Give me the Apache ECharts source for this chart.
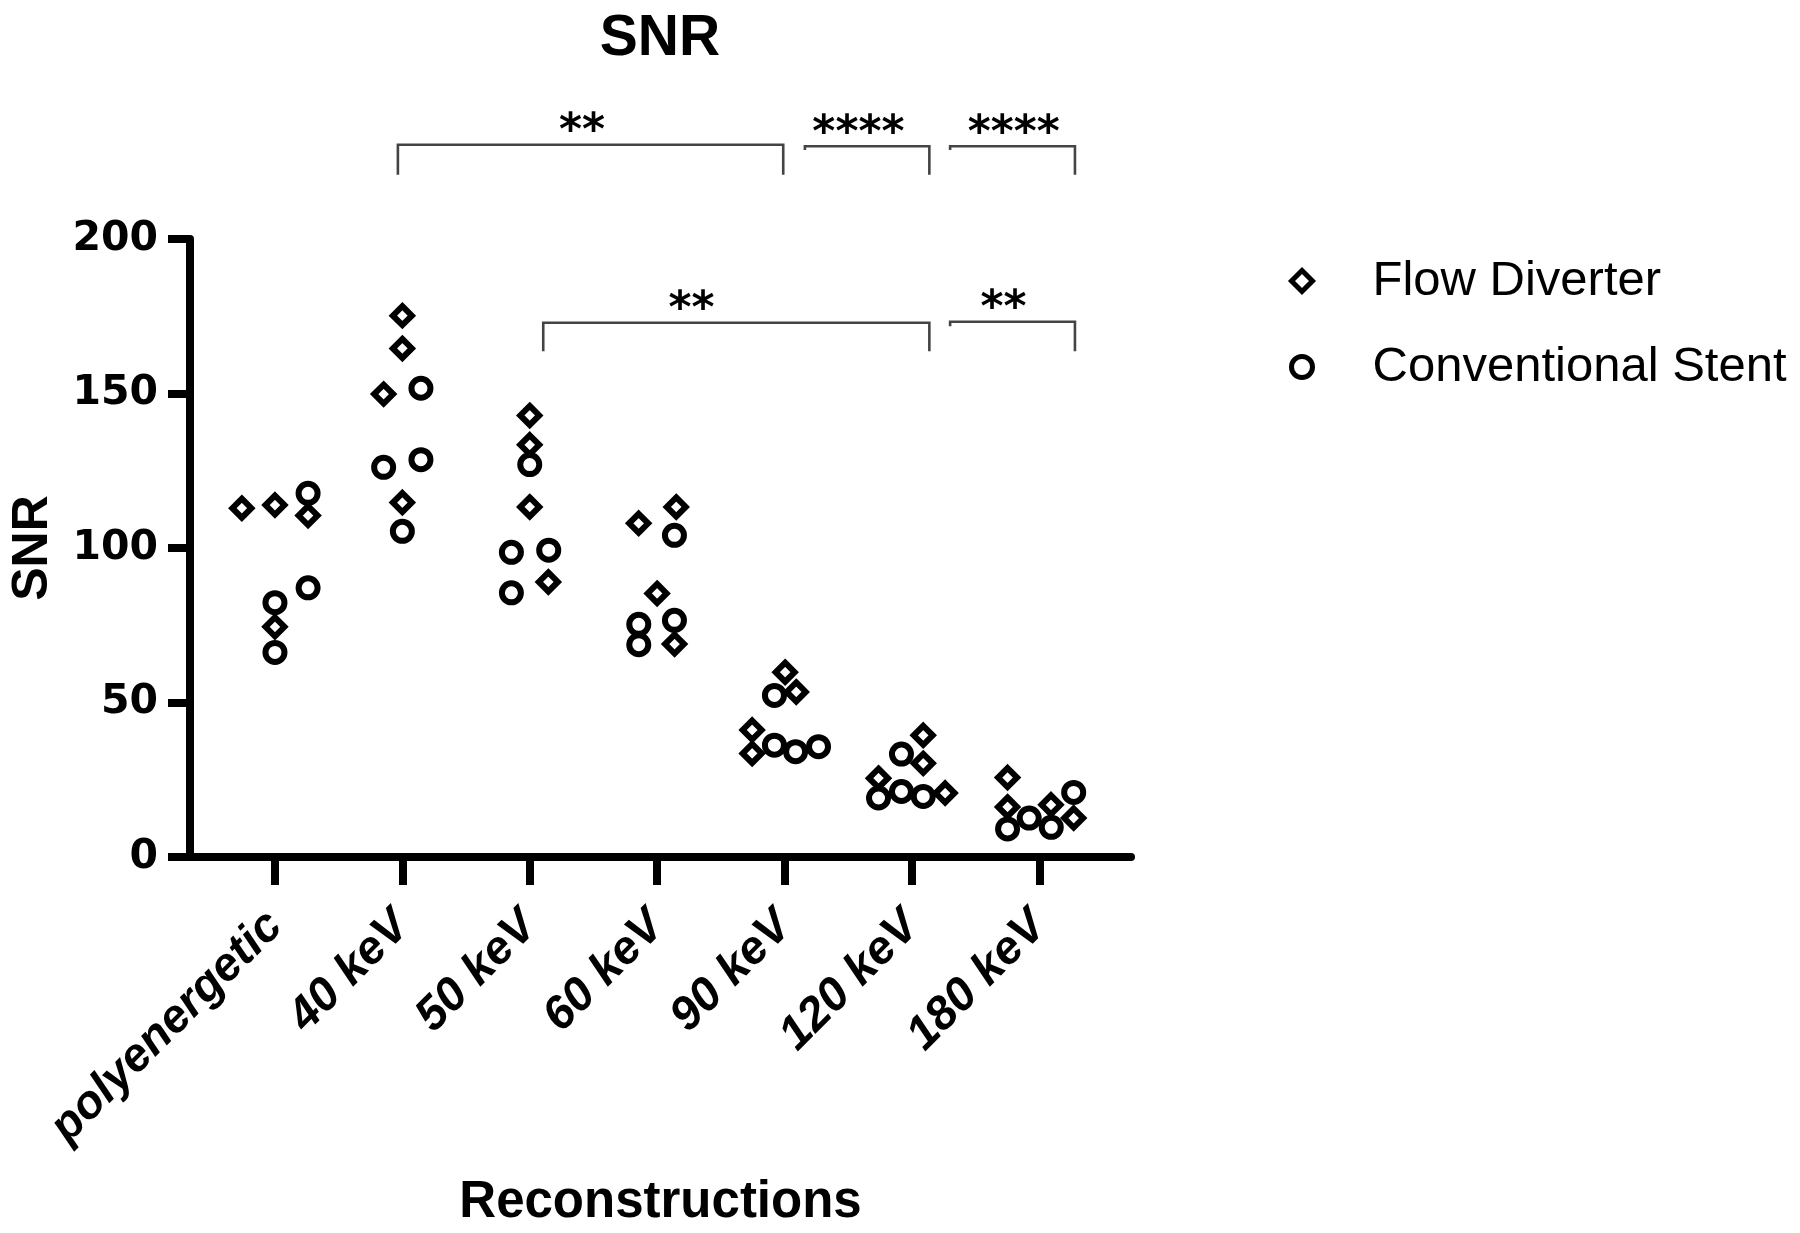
<!DOCTYPE html>
<html>
<head>
<meta charset="utf-8">
<script src="https://cdn.jsdelivr.net/npm/echarts@6/dist/echarts.min.js"></script>
<style>html,body{margin:0;padding:0;background:#fff}#c{width:1800px;height:1233px}</style>
</head>
<body>
<div id="c"></div>
<script>
// ---- data ----
const categories = ['polyenergetic', '40 keV', '50 keV', '60 keV', '90 keV', '120 keV', '180 keV'];
const yTicks = [0, 50, 100, 150, 200];

// Flow Diverter values per reconstruction, and horizontal jitter (category units)
const fdValues = [
  [112.9, 113.9, 110.5, 74.5],
  [175.2, 164.6, 149.8, 114.7],
  [142.9, 133.4, 113.3, 89.0],
  [108.0, 113.3, 85.3, 68.9],
  [59.8, 53.4, 41.1, 33.5],
  [39.4, 30.3, 25.5, 20.7],
  [25.7, 16.2, 16.9, 12.6]
];
const fdJitter = [
  [-0.26, 0, 0.26, 0],
  [0, 0, -0.147, 0],
  [0, 0, 0, 0.146],
  [-0.145, 0.15, 0, 0.137],
  [0.005, 0.092, -0.254, -0.254],
  [0.089, 0.089, -0.262, 0.261],
  [-0.249, -0.249, 0.092, 0.27]
];
// Conventional Stent values and jitter
const csValues = [
  [117.7, 87.1, 82.3, 66.2],
  [151.7, 126.1, 128.6, 105.4],
  [127.0, 98.6, 99.3, 85.5],
  [104.1, 75.3, 76.6, 68.7],
  [52.3, 36.2, 34.1, 35.7],
  [33.3, 19.1, 21.2, 19.6],
  [9.1, 12.6, 9.6, 20.9]
];
const csJitter = [
  [0.26, 0.26, 0, 0],
  [0.146, -0.147, 0.146, 0],
  [0, -0.144, 0.149, -0.144],
  [0.136, -0.144, 0.136, -0.144],
  [-0.079, -0.079, 0.087, 0.267],
  [-0.082, -0.262, -0.082, 0.089],
  [-0.249, -0.079, 0.094, 0.27]
];

// significance brackets: from/to (category units), bar level, leg ends, stars, label position
const bracketFrom  = [0.965, 4.16, 5.30, 2.106, 5.30];
const bracketTo    = [3.99, 5.137, 6.28, 5.137, 6.28];
const bracketLevel = [230.5, 230.0, 230.0, 172.9, 173.2];
const bracketLegL  = [220.8, 228.8, 228.8, 163.7, 171.8];
const bracketLegR  = [220.8, 220.8, 220.8, 163.7, 163.7];
const bracketStars = ['**', '****', '****', '**', '**'];
const bracketTextX = [2.41, 4.58, 5.80, 3.27, 5.72];

// ---- build ----
function pts(values, jitter) {
  const out = [];
  values.forEach((arr, i) => arr.forEach((v, j) => out.push([i + jitter[i][j], v])));
  return out;
}
const bracketData = bracketFrom.map((f, i) => [f, bracketTo[i], bracketLevel[i], bracketLegL[i], bracketLegR[i], bracketTextX[i]]);

const chart = echarts.init(document.getElementById('c'), null, {renderer: 'canvas'});
const black = '#000';
const option = {
  backgroundColor: '#fff',
  animation: false,
  title: {
    text: 'SNR', left: 655, top: 6, textAlign: 'center',
    textStyle: {fontFamily: 'Liberation Sans', fontWeight: 'bold', fontSize: 57, color: black}
  },
  legend: {
    orient: 'vertical', left: 1284, top: 248,
    itemWidth: 21, itemHeight: 21, itemGap: 30,
    data: ['Flow Diverter', 'Conventional Stent'],
    itemStyle: {color: '#fff', borderColor: black, borderWidth: 5},
    textStyle: {fontFamily: 'Liberation Sans', fontSize: 49, color: black, lineHeight: 56, padding: [0, 0, 0, 55]}
  },
  grid: {left: 190, top: 239, width: 941, height: 622, containLabel: false},
  xAxis: {
    type: 'value', min: -0.667, max: 6.72,
    splitLine: {show: false},
    axisLine: {show: true, onZero: false, lineStyle: {color: black, width: 8}},
    axisTick: {show: true, length: 28, lineStyle: {color: black, width: 8}, customValues: [0, 1, 2, 3, 4, 5, 6]},
    axisLabel: {
      customValues: [0, 1, 2, 3, 4, 5, 6], rotate: 45, margin: 62,
      formatter: v => categories[Math.round(v)] || '',
      fontFamily: 'Liberation Sans', fontWeight: 'bold', fontStyle: 'italic', fontSize: 47, color: black
    },
    name: 'Reconstructions', nameLocation: 'middle', nameGap: 320,
    nameTextStyle: {fontFamily: 'Liberation Sans', fontWeight: 'bold', fontSize: 51, color: black}
  },
  yAxis: {
    type: 'value', min: 0, max: 200, interval: 50,
    splitLine: {show: false},
    axisLine: {show: true, onZero: false, lineStyle: {color: black, width: 8}},
    axisTick: {show: true, length: 22, lineStyle: {color: black, width: 8}},
    axisLabel: {
      margin: 32, padding: [10, 0, 0, 0], formatter: v => yTicks.includes(v) ? String(v) : '',
      fontFamily: 'DejaVu Sans', fontWeight: 'bold', fontSize: 41, color: black
    },
    name: 'SNR', nameLocation: 'middle', nameGap: 132,
    nameTextStyle: {fontFamily: 'Liberation Sans', fontWeight: 'bold', fontSize: 50, color: black}
  },
  series: [
    {
      name: 'Flow Diverter', type: 'scatter', symbol: 'diamond', symbolSize: 19,
      data: pts(fdValues, fdJitter),
      itemStyle: {color: '#fff', borderColor: black, borderWidth: 6, opacity: 1},
      z: 3
    },
    {
      name: 'Conventional Stent', type: 'scatter', symbol: 'circle', symbolSize: 19,
      data: pts(csValues, csJitter),
      itemStyle: {color: '#fff', borderColor: black, borderWidth: 6, opacity: 1},
      z: 3
    },
    {
      type: 'custom', clip: false, silent: true,
      data: bracketData,
      renderItem: function (params, api) {
        const x1 = api.value(0), x2 = api.value(1), lv = api.value(2), ll = api.value(3), lr = api.value(4), tx = api.value(5);
        const a = api.coord([x1, ll]), b = api.coord([x1, lv]), c = api.coord([x2, lv]), d = api.coord([x2, lr]);
        const t = api.coord([tx, lv]);
        return {
          type: 'group',
          children: [
            {type: 'polyline', shape: {points: [a, b, c, d]}, style: {stroke: '#444', lineWidth: 2.6, fill: null}},
            {type: 'text', x: t[0], y: t[1] - 12, style: {
              text: bracketStars[params.dataIndex], fill: black,
              font: 'bold 44px "DejaVu Sans"', align: 'center', verticalAlign: 'middle'}}
          ]
        };
      }
    }
  ]
};
chart.setOption(option);
</script>
</body>
</html>
